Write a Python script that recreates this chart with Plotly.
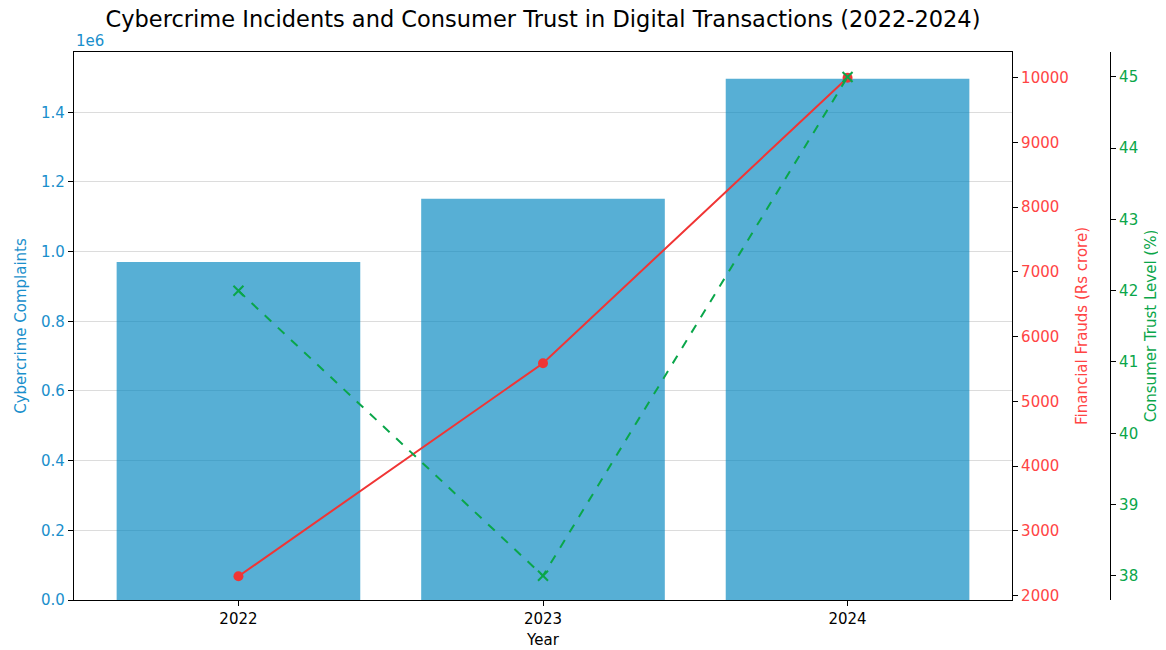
import plotly.graph_objects as go

years = ["2022", "2023", "2024"]
complaints = [970000, 1152000, 1496000]
frauds = [2300, 5590, 10000]
trust = [42.0, 38.0, 45.0]

left_ticks = [0, 200000, 400000, 600000, 800000, 1000000, 1200000, 1400000]
left_labels = [f"{v/1e6:.1f}" for v in left_ticks]
fraud_ticks = [2000, 3000, 4000, 5000, 6000, 7000, 8000, 9000, 10000]
fraud_labels = [str(v) for v in fraud_ticks]
trust_ticks = [38, 39, 40, 41, 42, 43, 44, 45]

BLUE_TXT = "#1a8fcc"
RED = "#f03535"
RED_TXT = "#ff4444"
GREEN = "#0aa64a"
FONT = "DejaVu Sans"
FS = 15

# page body has an 8px default margin; compensate
OFF = 8
W, H = 1166 - OFF, 650 - OFF
ml, mr, mt, mb = 74 - OFF, 12, 52 - OFF, 50
plot_w = W - ml - mr
x_end = (1012 - OFF - ml) / plot_w
y3_pos = (1110 - OFF - ml) / plot_w

fig = go.Figure()
fig.add_trace(go.Bar(
    x=years, y=complaints, name="Cybercrime Complaints",
    marker=dict(color="rgba(0,134,192,0.66)", line=dict(width=0)),
    width=0.8, yaxis="y",
))
fig.add_trace(go.Scatter(
    x=years, y=frauds, name="Financial Frauds (Rs crore)", mode="lines+markers",
    line=dict(color=RED, width=2), marker=dict(symbol="circle", size=10, color=RED),
    yaxis="y2",
))
fig.add_trace(go.Scatter(
    x=years, y=trust, name="Consumer Trust Level (%)", mode="lines+markers",
    line=dict(color=GREEN, width=2, dash="dash"),
    marker=dict(symbol="x-thin", size=10, color=GREEN, line=dict(width=2, color=GREEN)),
    yaxis="y3",
))

fig.update_layout(
    width=W, height=H,
    margin=dict(l=ml, r=mr, t=mt, b=mb, autoexpand=False),
    plot_bgcolor="white", paper_bgcolor="white",
    showlegend=False,
    font=dict(family=FONT, size=FS, color="black"),
    title=dict(text="Cybercrime Incidents and Consumer Trust in Digital Transactions (2022-2024)",
               x=(ml + (1012 - OFF - ml) / 2) / W, xanchor="center",
               yref="container", y=1, yanchor="top", pad=dict(t=3, b=0),
               font=dict(size=22.5, family=FONT, color="black")),
    bargap=0.2,
    xaxis=dict(
        domain=[0, x_end], range=[-0.54, 2.54], automargin=False,
        showline=True, linecolor="black", linewidth=1.2, mirror=True,
        ticks="outside", ticklen=5, tickcolor="black", showgrid=False,
        tickfont=dict(size=FS, color="black"),
        title=dict(text="Year", font=dict(size=FS, color="black"), standoff=7),
    ),
    yaxis=dict(
        range=[0, 1573000], tickvals=left_ticks, ticktext=left_labels, automargin=False,
        showline=True, linecolor="black", linewidth=1.2,
        ticks="outside", ticklen=5, tickcolor="black",
        showgrid=True, gridcolor="#dcdcdc", gridwidth=1, zeroline=False,
        tickfont=dict(size=FS, color=BLUE_TXT),
        title=dict(text="Cybercrime Complaints", font=dict(size=FS, color=BLUE_TXT), standoff=10),
    ),
    yaxis2=dict(
        overlaying="y", side="right", anchor="x", automargin=False,
        range=[1934, 10397], tickvals=fraud_ticks, ticktext=fraud_labels,
        showline=True, linecolor="black", linewidth=1.2,
        ticks="outside", ticklen=5, tickcolor="black", showgrid=False, zeroline=False,
        tickfont=dict(size=FS, color=RED_TXT),
        title=dict(text="Financial Frauds (Rs crore)", font=dict(size=FS, color=RED_TXT), standoff=8),
    ),
    yaxis3=dict(
        overlaying="y", side="right", anchor="free", position=y3_pos, automargin=False,
        range=[37.66, 45.35], tickvals=trust_ticks,
        showline=True, linecolor="black", linewidth=1.2,
        ticks="outside", ticklen=5, tickcolor="black", showgrid=False, zeroline=False,
        tickfont=dict(size=FS, color=GREEN),
        title=dict(text="Consumer Trust Level (%)", font=dict(size=FS, color=GREEN), standoff=8),
    ),
)

fig.add_annotation(text="1e6", xref="paper", yref="paper", x=0, y=1, xanchor="left",
                   yanchor="bottom", yshift=0, showarrow=False,
                   font=dict(size=FS, color=BLUE_TXT, family=FONT))

fig.write_html("out.html")
